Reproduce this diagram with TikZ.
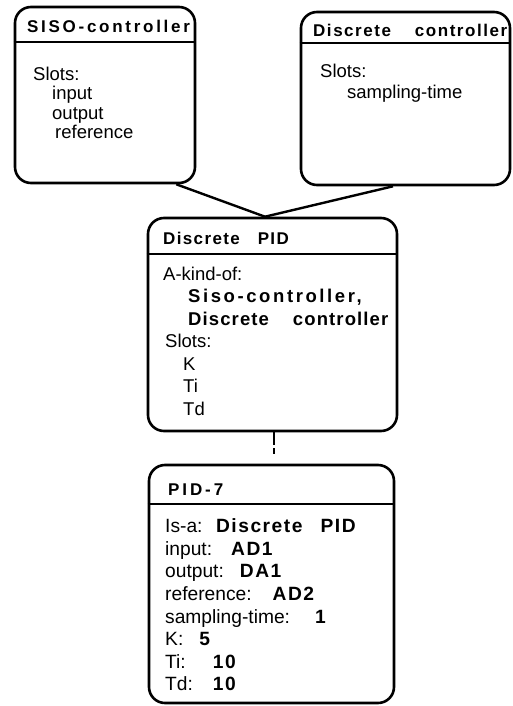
\documentclass[tikz,border=0pt]{standalone}
\usepackage{fontspec}
\setmainfont{Liberation Sans}
\newcommand{\frm}[2][8]{{\bfseries\addfontfeatures{LetterSpace=#1}#2}}
\tikzset{
  frame/.style={draw,line width=2.6pt,rounded corners=16pt,inner sep=0pt},
  headrule/.style={line width=1.3pt},
  title/.style={anchor=base west,inner sep=0pt,font=\fontsize{17}{20}\selectfont\bfseries\addfontfeatures{LetterSpace=#1}},
  title/.default=10,
  slots/.style={anchor=north west,inner sep=0pt,align=left,font=\fontsize{18.5}{22}\selectfont},
  link/.style={line width=2.4pt},
  isa/.style={line width=2.4pt,dash pattern=on 13pt off 3pt}
}
\begin{document}
\begin{tikzpicture}[x=1pt,y=-1pt]
\useasboundingbox (0,0) rectangle (512,706);

\node[frame,minimum width=180pt,minimum height=176pt] (siso) at (105,95) {};
\draw[headrule] (siso.west |- 0,42) -- (siso.east |- 0,42);
\node[title=16] (sisoname) at (27,33) {SISO-controller};
\node[slots,font=\fontsize{18.5}{19.5}\selectfont] (sisoslots) at (33,66.5)
  {Slots:\\\hspace*{19pt}input\\\hspace*{19pt}output\\\hspace*{22pt}reference};

\node[frame,minimum width=209pt,minimum height=173pt] (dctrl) at (405.5,98.5) {};
\draw[headrule] (dctrl.west |- 0,43) -- (dctrl.east |- 0,43);
\node[title=9] (dctrlname) at (313,36.5) {Discrete\hspace{24pt}controller};
\node[slots,font=\fontsize{18.5}{21}\selectfont] (dctrlslots) at (320,63.5)
  {Slots:\\\hspace*{27pt}sampling-time};

\node[frame,minimum width=249pt,minimum height=213pt] (dpid) at (272.5,324.5) {};
\draw[headrule] (dpid.west |- 0,254) -- (dpid.east |- 0,254);
\node[title=8] (dpidname) at (163,244.5) {Discrete\hspace{18pt}PID};
\node[slots,font=\fontsize{18.5}{22.5}\selectfont] (dpidslots) at (163,266.5)
  {A-kind-of:\\
   \hspace*{25pt}\frm[14]{Siso-controller,}\\
   \hspace*{25pt}\frm[6]{Discrete\hspace{24pt}controller}\\
   \hspace*{2pt}Slots:\\
   \hspace*{20pt}K\\
   \hspace*{20pt}Ti\\
   \hspace*{20pt}Td};

\node[frame,minimum width=245pt,minimum height=238pt] (pid7) at (271.5,584) {};
\draw[headrule] (pid7.west |- 0,504) -- (pid7.east |- 0,504);
\node[title=17] (pid7name) at (168,495) {PID-7};
\node[slots,font=\fontsize{19.2}{22.6}\selectfont] (pid7slots) at (165,518.5)
  {Is-a:\hspace{13.5pt}\frm{Discrete\hspace{18pt}PID}\\
   input:\hspace{19pt}\frm{AD1}\\
   output:\hspace{16pt}\frm{DA1}\\
   reference:\hspace{21pt}\frm{AD2}\\
   sampling-time:\hspace{25pt}\frm{1}\\
   K:\hspace{16pt}\frm{5}\\
   Ti:\hspace{27pt}\frm{10}\\
   Td:\hspace{20pt}\frm{10}};

\draw[link] ([xshift=-20pt]siso.south east) -- ([xshift=-7.5pt]dpid.north);
\draw[link] ([xshift=-12.5pt]dctrl.south) -- ([xshift=-7.5pt]dpid.north);
\draw[isa] ([xshift=1.5pt]dpid.south) -- ([xshift=2.5pt,yshift=10pt]pid7.north);

\end{tikzpicture}
\end{document}
